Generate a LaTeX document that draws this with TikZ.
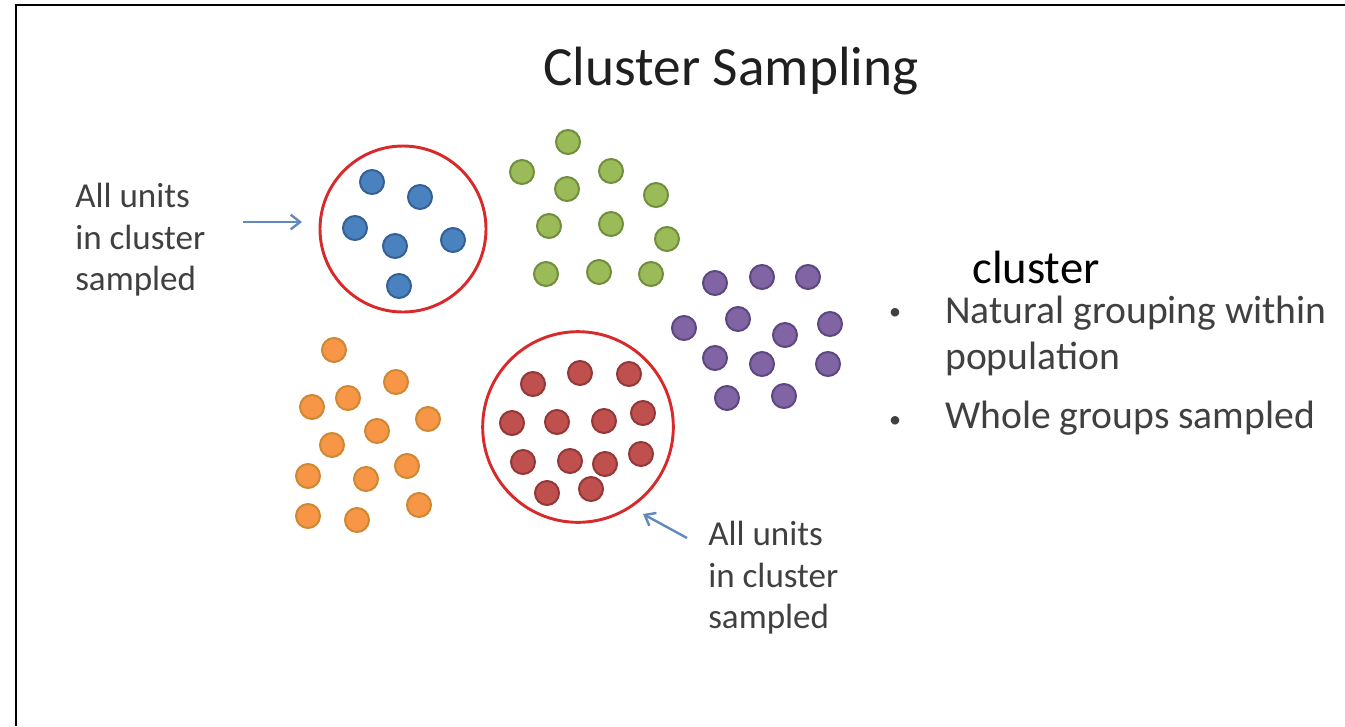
\documentclass[tikz,border=0pt]{standalone}
\usepackage{fontspec}
\setmainfont{Carlito}
\usetikzlibrary{arrows.meta}

\definecolor{bluefill}{RGB}{74,130,192}
\definecolor{blueline}{RGB}{52,96,150}
\definecolor{greenfill}{RGB}{155,187,89}
\definecolor{greenline}{RGB}{112,142,62}
\definecolor{purplefill}{RGB}{128,100,164}
\definecolor{purpleline}{RGB}{92,72,128}
\definecolor{orangefill}{RGB}{247,150,70}
\definecolor{orangeline}{RGB}{206,136,52}
\definecolor{redfill}{RGB}{192,80,77}
\definecolor{redline}{RGB}{146,56,56}
\definecolor{ringred}{RGB}{216,42,42}
\definecolor{pointblue}{RGB}{96,138,190}
\definecolor{textgray}{RGB}{64,64,64}

\tikzset{
  unit/.style={circle, inner sep=0pt, minimum size=18pt, line width=1.5pt},
  blueunit/.style={unit, fill=bluefill, draw=blueline},
  greenunit/.style={unit, fill=greenfill, draw=greenline},
  purpleunit/.style={unit, fill=purplefill, draw=purpleline},
  orangeunit/.style={unit, fill=orangefill, draw=orangeline},
  redunit/.style={unit, fill=redfill, draw=redline},
  ring/.style={circle, draw=ringred, line width=2.2pt, inner sep=0pt},
  pointer/.style={draw=pointblue, line width=1.8pt, -{Straight Barb[length=7pt,width=11pt]}},
  note/.style={align=left, anchor=north west, inner sep=0pt, text=textgray,
    font=\fontsize{26.3}{31.2}\selectfont},
  bulletnote/.style={align=left, anchor=north west, inner sep=0pt, text=textgray,
    font=\fontsize{29.7}{34}\selectfont}
}

\begin{document}
\begin{tikzpicture}[x=0.75pt, y=-0.75pt]
  \useasboundingbox (0,0) rectangle (1345,726);
  \draw [black, line width=1.5pt] (16,726) -- (16,5) -- (1345,5);

  % title
  \node [anchor=base, inner sep=0pt, text=black!88, font=\fontsize{41.5}{50}\selectfont]
    (title) at (731,85) {Cluster Sampling};

  % rings round the sampled clusters
  \node [ring, minimum size=124.5pt] (ringA) at (403,229) {};
  \node [ring, minimum size=143pt] (ringB) at (578,427) {};

  % blue cluster
  \foreach \x/\y [count=\i] in {372/182, 420/197, 355/228, 395/246, 453/240, 399/286}
    \node [blueunit] (b\i) at (\x,\y) {};

  % green cluster
  \foreach \x/\y [count=\i] in {568/142, 522/172, 611/171, 567/189, 656/195, 549/226,
      611/224, 667/239, 546/274, 599/272, 651/274}
    \node [greenunit] (g\i) at (\x,\y) {};

  % purple cluster
  \foreach \x/\y [count=\i] in {715/283, 762/277, 808/277, 684/328, 738/319, 785/335,
      830/324, 715/358, 762/364, 828/364, 727/398, 784/396}
    \node [purpleunit] (p\i) at (\x,\y) {};

  % orange cluster
  \foreach \x/\y [count=\i] in {334/350, 396/382, 348/398, 312/407, 428/419, 377/431,
      332/445, 407/466, 308/476, 366/479, 419/505, 308/516, 357/520}
    \node [orangeunit] (o\i) at (\x,\y) {};

  % red cluster
  \foreach \x/\y [count=\i] in {533/384, 580/373, 629/374, 512/423, 557/422, 604/421,
      643/413, 523/462, 570/461, 605/464, 641/454, 547/493, 591/489}
    \node [redunit] (r\i) at (\x,\y) {};

  % labels and pointers
  \node [note] (noteA) at (75,183) {All units\\in cluster\\sampled};
  \node [note] (noteB) at (708,521) {All units\\in cluster\\sampled};
  \coordinate (tailA) at (243,222);
  \coordinate (tipA) at (302,222);
  \coordinate (tailB) at (687,538);
  \coordinate (tipB) at (643,514);
  \draw [pointer] (tailA) -- (tipA);
  \draw [pointer] (tailB) -- (tipB);

  % definition
  \node [anchor=base west, inner sep=0pt, text=black, font=\fontsize{35}{40}\selectfont]
    (head) at (972,283) {cluster};
  \node [inner sep=0pt, text=textgray, font=\fontsize{18}{22}\selectfont] (dotA) at (895,314) {•};
  \node [inner sep=0pt, text=textgray, font=\fontsize{18}{22}\selectfont] (dotB) at (895,422) {•};
  \node [bulletnote] (itemA) at (945,296) {Natural grouping within\\population};
  \node [bulletnote] (itemB) at (945,401) {Whole groups sampled};
\end{tikzpicture}
\end{document}
